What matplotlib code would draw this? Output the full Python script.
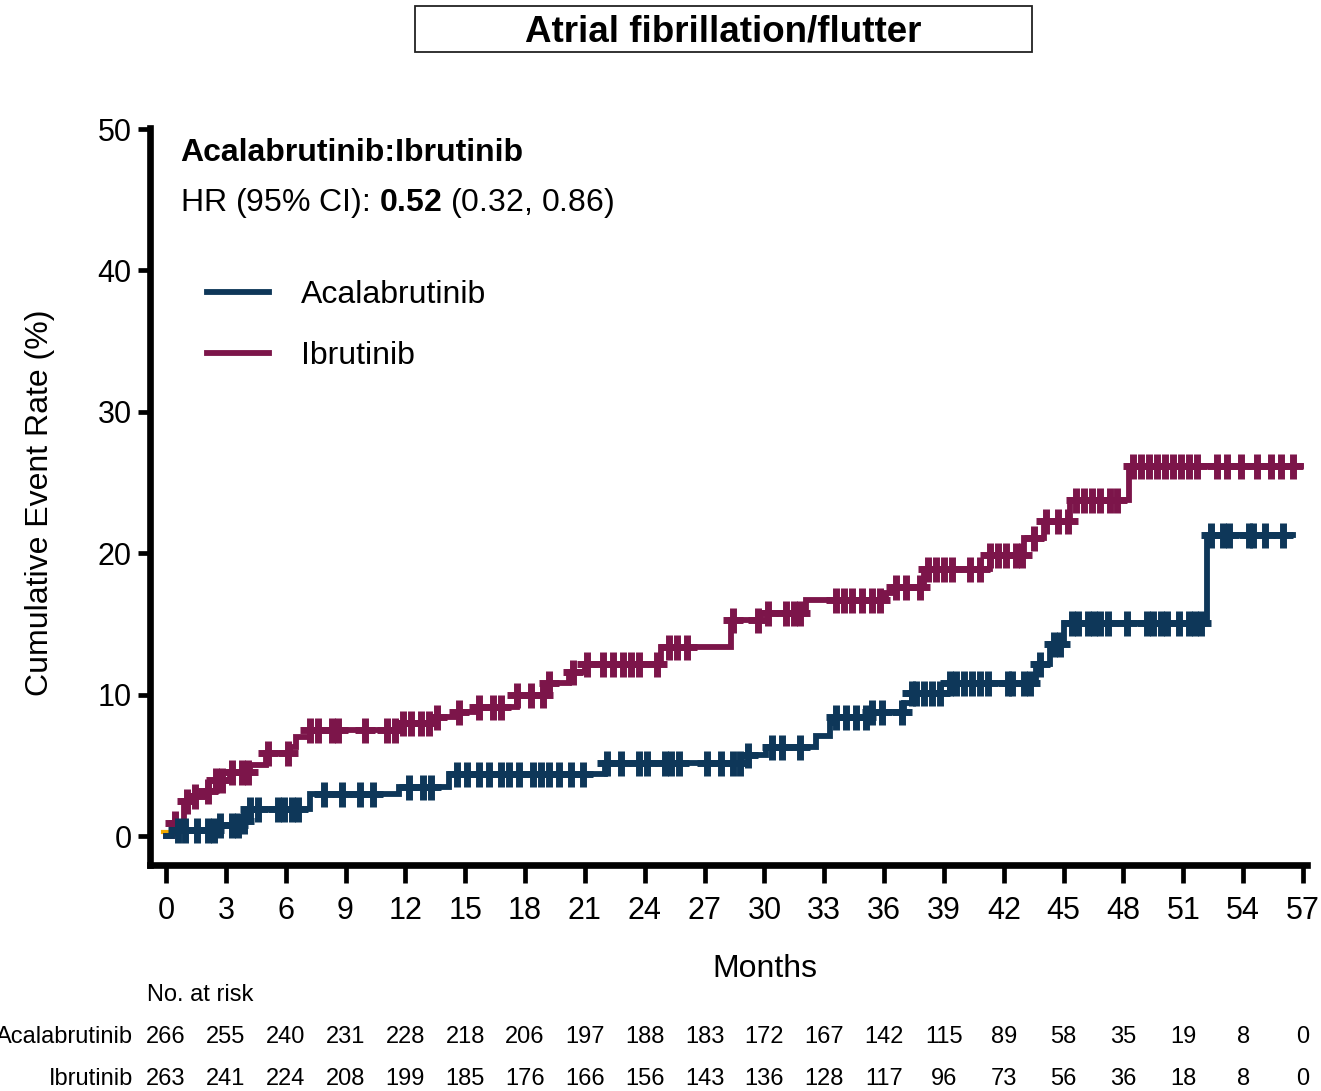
import numpy as np
import matplotlib
matplotlib.use('Agg')
import matplotlib.pyplot as plt
from matplotlib.path import Path
from matplotlib.patches import Rectangle
from matplotlib.transforms import blended_transform_factory

plt.rcParams['font.family'] = ['Liberation Sans', 'DejaVu Sans']
plt.rcParams['mathtext.fontset'] = 'custom'
plt.rcParams['mathtext.rm'] = 'Liberation Sans'
plt.rcParams['mathtext.bf'] = 'Liberation Sans:bold'

# step curves: event times (months) and cumulative event rate (%) after each step
acal_t = [0, 0.3, 2.7, 3.7, 4.2, 7.2, 11.7, 14.2, 22.0, 28.9, 30.1, 32.6, 33.3, 33.6,
          35.4, 37.0, 37.4, 39.3, 43.6, 44.3, 45.0, 52.2]
acal_v = [0, 0.4, 0.8, 1.1, 1.9, 3.0, 3.5, 4.4, 5.2, 5.7, 6.3, 7.1, 8.0, 8.4,
          8.8, 9.4, 10.1, 10.8, 12.2, 13.6, 15.1, 21.3]
acal_end = 56.5

ibru_t = [0, 0.3, 0.9, 1.4, 2.0, 2.5, 3.2, 4.2, 5.0, 6.2, 6.5, 7.2, 11.7, 13.4, 14.7,
          15.5, 17.6, 19.2, 20.2, 21.0, 24.8, 28.3, 29.8, 32.1, 36.1, 36.5, 38.0, 41.3,
          43.0, 44.0, 45.3, 48.3]
ibru_v = [0, 0.9, 2.5, 2.8, 3.2, 4.0, 4.5, 5.0, 5.9, 6.3, 7.0, 7.5, 8.0, 8.4, 8.8,
          9.1, 10.0, 10.8, 11.6, 12.2, 13.4, 15.3, 15.8, 16.7, 17.2, 17.6, 18.9, 19.9,
          21.1, 22.3, 23.8, 26.2]
ibru_end = 56.9

# censoring times
acal_cens = [0.6, 0.95, 1.55, 2.1, 2.4, 2.7, 3.3, 3.6, 3.9, 4.2, 4.6, 5.6, 5.9, 6.3, 6.6,
             7.9, 8.8, 9.7, 10.4, 12.2, 12.9, 13.3, 14.6, 15.1, 15.7, 16.2, 16.8, 17.2,
             17.7, 18.4, 18.8, 19.2, 19.7, 20.3, 20.9, 22.1, 22.8, 23.7, 24.1, 25.0, 25.3,
             25.7, 27.1, 27.8, 28.4, 28.8, 29.2, 30.4, 30.9, 31.8, 33.6, 34.1, 34.6, 35.1,
             35.4, 35.9, 36.9, 37.4, 37.6, 38.0, 38.4, 38.8, 39.3, 39.6, 40.0, 40.4, 40.8,
             41.2, 42.2, 42.4, 43.0, 43.3, 43.8, 44.5, 44.8, 45.4, 45.7, 46.2, 46.5, 46.8,
             47.2, 48.2, 49.2, 49.5, 49.9, 50.2, 50.8, 51.3, 51.6, 51.9, 52.4, 53.0, 53.3,
             54.3, 54.5, 55.1, 56.0]
ibru_cens = [0.45, 1.05, 1.45, 2.1, 2.5, 2.8, 3.3, 3.8, 4.1, 5.1, 6.1, 7.2, 7.6, 8.3, 8.6,
             10.0, 11.1, 11.5, 11.9, 12.3, 12.8, 13.2, 13.6, 14.7, 15.7, 16.4, 16.8, 17.6,
             18.3, 18.9, 19.2, 20.4, 21.1, 21.9, 22.4, 22.9, 23.3, 23.7, 24.6, 25.2, 25.6,
             26.1, 28.4, 29.7, 30.2, 31.1, 31.5, 31.8, 33.6, 34.0, 34.4, 34.9, 35.4, 35.8,
             36.6, 37.1, 37.8, 38.2, 38.6, 39.0, 39.4, 40.3, 40.8, 41.3, 41.7, 42.1, 42.6,
             42.9, 43.5, 44.1, 44.7, 45.2, 45.6, 46.0, 46.4, 46.8, 47.3, 47.7, 48.5, 48.9,
             49.3, 49.7, 50.1, 50.5, 50.9, 51.3, 51.7, 52.7, 53.2, 53.9, 54.7, 55.4, 55.9,
             56.5]

# tiny orange stub at time zero
stub_t = [-0.15, 0.2]
stub_v = [0.3, 0.3]

months = list(range(0, 58, 3))
acal_risk = [266, 255, 240, 231, 228, 218, 206, 197, 188, 183, 172, 167, 142, 115, 89, 58, 35, 19, 8, 0]
ibru_risk = [263, 241, 224, 208, 199, 185, 176, 166, 156, 143, 136, 128, 117, 96, 73, 56, 36, 18, 8, 0]

c_acal = '#0E3759'
c_ibru = '#7C154A'

cross = Path([(-0.8, 0), (0.8, 0), (0, -1), (0, 1)],
             [Path.MOVETO, Path.LINETO, Path.MOVETO, Path.LINETO])


def step_at(ts, vs, x):
    idx = np.searchsorted(ts, x, side='right') - 1
    return np.asarray(vs)[idx]


fig = plt.figure(figsize=(13.21, 10.91), dpi=100)
ax = fig.add_axes([0.1139, 0.2071, 0.8755, 0.6755])

ax.plot(stub_t, stub_v, color='#F2A900', lw=3, zorder=1)
h_ibru, = ax.step(ibru_t + [ibru_end], ibru_v + [ibru_v[-1]], where='post',
                  color=c_ibru, lw=4.2, solid_joinstyle='miter', label='Ibrutinib', zorder=2)
ax.plot(ibru_cens, step_at(ibru_t, ibru_v, ibru_cens), ls='none', marker=cross,
        ms=18, mew=5, color=c_ibru, zorder=2)
h_acal, = ax.step(acal_t + [acal_end], acal_v + [acal_v[-1]], where='post',
                  color=c_acal, lw=4.2, solid_joinstyle='miter', label='Acalabrutinib', zorder=3)
ax.plot(acal_cens, step_at(acal_t, acal_v, acal_cens), ls='none', marker=cross,
        ms=18, mew=5, color=c_acal, zorder=3)

ax.set_xlim(-0.78, 57.2)
ax.set_ylim(-2.05, 50.07)
ax.set_xticks(months)
ax.set_yticks([0, 10, 20, 30, 40, 50])
for s in ['top', 'right']:
    ax.spines[s].set_visible(False)
for s in ['left', 'bottom']:
    ax.spines[s].set_linewidth(4.8)
    ax.spines[s].set_capstyle('projecting')
ax.tick_params(axis='x', length=13, width=3.4, pad=9.5, labelsize=22)
ax.tick_params(axis='y', length=8.6, width=3.4, pad=5, labelsize=22)

ax.set_xlabel('Months', fontsize=23)
ax.xaxis.set_label_coords(0.5313, -0.1411)
ax.xaxis.label.set_va('center')
ax.set_ylabel('Cumulative Event Rate (%)', fontsize=23)
ax.yaxis.set_label_coords(-0.0955, 0.491)
ax.yaxis.label.set_va('center')

ax.text(0.0255, 0.966, 'Acalabrutinib:Ibrutinib', transform=ax.transAxes,
        fontsize=23, fontweight='bold', va='center', ha='left')
ax.text(0.0255, 0.8982, r'HR (95% CI): $\mathbf{0.52}$ (0.32, 0.86)', transform=ax.transAxes,
        fontsize=23, va='center', ha='left')

ax.legend(handles=[h_acal, h_ibru], loc='center left', bbox_to_anchor=(0.0489, 0.732),
          frameon=False, fontsize=23, handlelength=1.95, handletextpad=1.0,
          labelspacing=0.97, borderpad=0, borderaxespad=0)

# title box
fig.patches.append(Rectangle((415 / 1321, 1 - 52 / 1091), 617 / 1321, 46 / 1091,
                             transform=fig.transFigure, fill=False, lw=1.3, ec='#222222'))
fig.text(0.5477, 0.9707, 'Atrial fibrillation/flutter', fontsize=26.5, fontweight='bold',
         ha='center', va='center')

# number at risk table
tr = blended_transform_factory(ax.transData, fig.transFigure)
fig.text(0.1113, 0.088, 'No. at risk', fontsize=17, ha='left', va='center')
fig.text(0.1007, 0.0495, 'Acalabrutinib', fontsize=17, ha='right', va='center')
fig.text(0.1007, 0.011, 'Ibrutinib', fontsize=17, ha='right', va='center')
for m, a, b in zip(months, acal_risk, ibru_risk):
    ax.text(m, 0.0495, str(a), transform=tr, fontsize=17, ha='center', va='center', clip_on=False)
    ax.text(m, 0.011, str(b), transform=tr, fontsize=17, ha='center', va='center', clip_on=False)

fig.savefig('out.png', dpi=100)
